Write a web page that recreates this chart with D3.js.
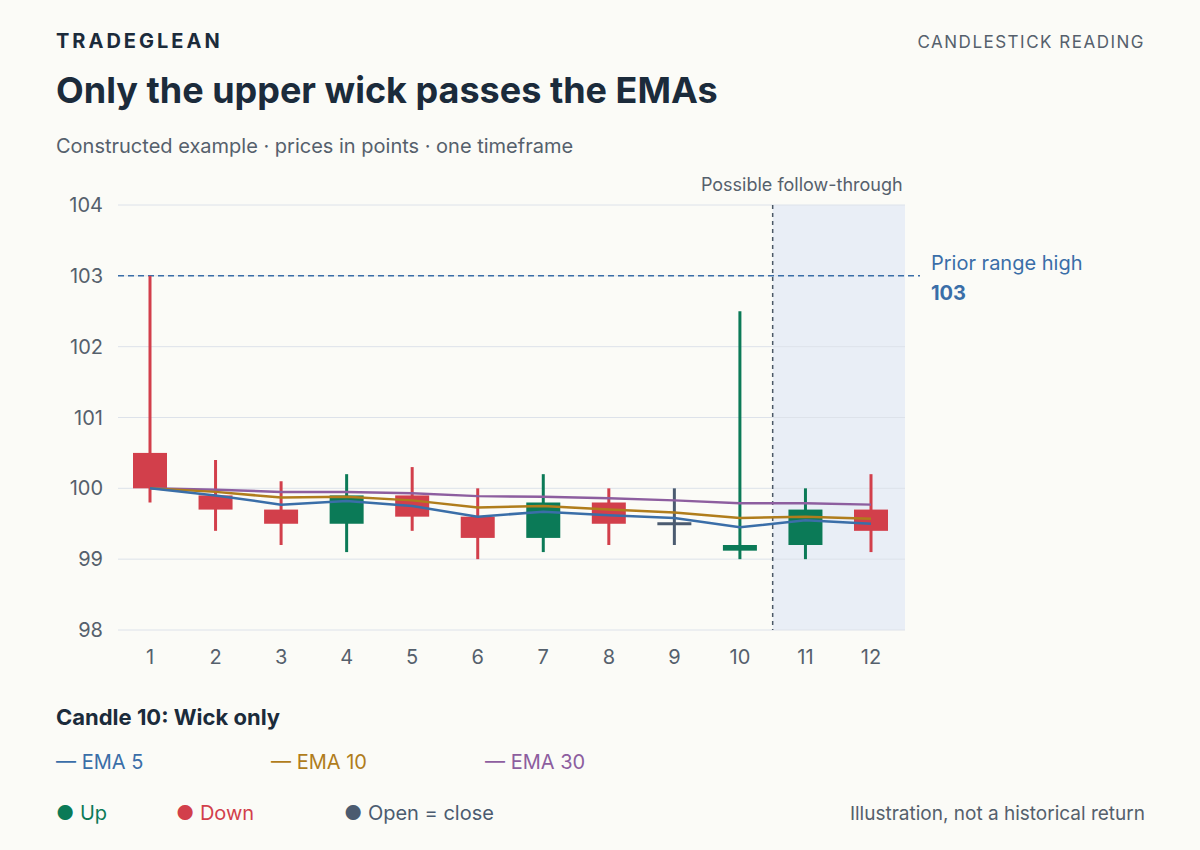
<!DOCTYPE html>
<html><head><meta charset="utf-8">
<script src="https://cdn.jsdelivr.net/npm/d3@7"></script>
<style>body{margin:0;background:#fbfbf7;font-family:Inter,"Noto Sans",sans-serif}</style>
</head><body><svg id="c" width="1200" height="850"></svg>
<script>
const candles=[1,2,3,4,5,6,7,8,9,10,11,12];
const opens=[100.5,99.9,99.7,99.5,99.9,99.6,99.3,99.8,99.5,99.12,99.2,99.7];
const closes=[100.0,99.7,99.5,99.9,99.6,99.3,99.8,99.5,99.5,99.2,99.7,99.4];
const highs=[103,100.4,100.1,100.2,100.3,100.0,100.2,100.0,100.0,102.5,100.0,100.2];
const lows=[99.8,99.4,99.2,99.1,99.4,99.0,99.1,99.2,99.2,99.0,99.0,99.1];
const ema5=[100.0,99.9,99.77,99.82,99.75,99.6,99.67,99.62,99.58,99.45,99.55,99.5];
const ema10=[100.0,99.95,99.87,99.88,99.83,99.73,99.75,99.70,99.66,99.58,99.60,99.57];
const ema30=[100.0,99.98,99.95,99.95,99.93,99.89,99.88,99.86,99.83,99.79,99.79,99.77];
const yTicks=[98,99,100,101,102,103,104];
const C={up:"#0b7a57",down:"#d23f4b",flat:"#4b5b70",e5:"#3a6ea8",e10:"#b07d1c",e30:"#8d5e9f",ink:"#1b2b3b",mut:"#55606c"};
const svg=d3.select("#c");
svg.append("rect").attr("width",1200).attr("height",850).attr("fill","#fbfbf7");
const x=d3.scaleLinear().domain([1,12]).range([150,871]);
const y=d3.scaleLinear().domain([98,104]).range([630,205]);
const L=118,R=905;
// shaded
svg.append("rect").attr("x",x(10.5)).attr("y",y(104)).attr("width",R-x(10.5)).attr("height",y(98)-y(104)).attr("fill","#e9eef6");
// grid
yTicks.forEach(t=>{svg.append("line").attr("x1",L).attr("x2",R).attr("y1",y(t)).attr("y2",y(t)).attr("stroke","#dde2ea");
svg.append("text").attr("x",103).attr("y",y(t)+7).attr("text-anchor","end").attr("font-size",20).attr("fill",C.mut).text(t);});
candles.forEach(c=>svg.append("text").attr("x",x(c)).attr("y",664).attr("text-anchor","middle").attr("font-size",20).attr("fill",C.mut).text(c));
// vline
svg.append("line").attr("x1",x(10.5)).attr("x2",x(10.5)).attr("y1",y(104)).attr("y2",y(98)).attr("stroke","#4b5866").attr("stroke-dasharray","4,4").attr("stroke-width",1.5);
svg.append("text").attr("x",x(10.5)+130).attr("y",191).attr("text-anchor","end").attr("font-size",18).attr("fill",C.mut).text("Possible follow-through");
// prior high
svg.append("line").attr("x1",L).attr("x2",920).attr("y1",y(103)).attr("y2",y(103)).attr("stroke","#3a6ea8").attr("stroke-dasharray","6,4").attr("stroke-width",1.5);
svg.append("text").attr("x",931).attr("y",270).attr("font-size",20).attr("fill","#3a6ea8").text("Prior range high");
svg.append("text").attr("x",931).attr("y",300).attr("font-size",20).attr("font-weight",700).attr("fill","#3a6ea8").text("103");
// candles
candles.forEach((c,i)=>{const o=opens[i],cl=closes[i];const col=cl>o?C.up:cl<o?C.down:C.flat;
svg.append("line").attr("x1",x(c)).attr("x2",x(c)).attr("y1",y(highs[i])).attr("y2",y(lows[i])).attr("stroke",col).attr("stroke-width",3);
const top=y(Math.max(o,cl)),bot=y(Math.min(o,cl));
svg.append("rect").attr("x",x(c)-17).attr("width",34).attr("y",top-(bot-top<3?1.5:0)).attr("height",Math.max(bot-top,3)).attr("fill",col);});
// emas
const line=d3.line().x((d,i)=>x(candles[i])).y(d=>y(d));
[[ema30,C.e30],[ema10,C.e10],[ema5,C.e5]].forEach(([d,col])=>svg.append("path").attr("d",line(d)).attr("fill","none").attr("stroke",col).attr("stroke-width",2.5));
// header
svg.append("text").attr("x",56).attr("y",48).attr("font-size",20).attr("font-weight",700).attr("letter-spacing",3).attr("fill",C.ink).text("TRADEGLEAN");
svg.append("text").attr("x",1145).attr("y",48).attr("text-anchor","end").attr("font-size",17).attr("letter-spacing",1.5).attr("fill",C.mut).text("CANDLESTICK READING");
svg.append("text").attr("x",56).attr("y",103).attr("font-size",36).attr("font-weight",700).attr("fill",C.ink).text("Only the upper wick passes the EMAs");
svg.append("text").attr("x",56).attr("y",153).attr("font-size",20).attr("fill",C.mut).text("Constructed example · prices in points · one timeframe");
// legend
svg.append("text").attr("x",56).attr("y",725).attr("font-size",22).attr("font-weight",700).attr("fill",C.ink).text("Candle 10: Wick only");
[["— EMA 5",C.e5,56],["— EMA 10",C.e10,271],["— EMA 30",C.e30,485]].forEach(([t,c,xx])=>svg.append("text").attr("x",xx).attr("y",769).attr("font-size",20).attr("fill",c).text(t));
[["● Up",C.up,56],["● Down",C.down,176],["● Open = close",C.flat,344]].forEach(([t,c,xx])=>svg.append("text").attr("x",xx).attr("y",820).attr("font-size",20).attr("fill",c).text(t));
svg.append("text").attr("x",1145).attr("y",820).attr("text-anchor","end").attr("font-size",19).attr("fill",C.mut).text("Illustration, not a historical return");
</script></body></html>
